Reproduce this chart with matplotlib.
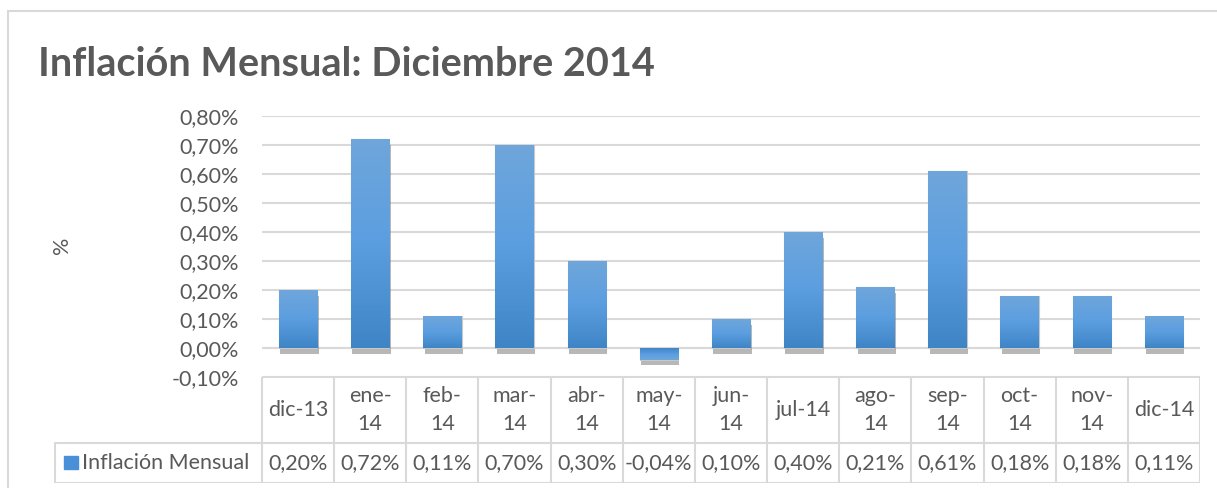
import matplotlib
matplotlib.use("Agg")
import matplotlib.pyplot as plt
import matplotlib.patheffects as pe
import numpy as np

meses = ["dic-13", "ene-\n14", "feb-\n14", "mar-\n14", "abr-\n14", "may-\n14", "jun-\n14",
         "jul-14", "ago-\n14", "sep-\n14", "oct-\n14", "nov-\n14", "dic-14"]
inflacion = [0.20, 0.72, 0.11, 0.70, 0.30, -0.04, 0.10, 0.40, 0.21, 0.61, 0.18, 0.18, 0.11]
serie = "Inflación Mensual"
yticks = [-0.1, 0.0, 0.1, 0.2, 0.3, 0.4, 0.5, 0.6, 0.7, 0.8]

gris = "#595959"
linea = "#d9d9d9"
fuente = "Lato"
fs = 15.5
W, H = 1217, 488

fig = plt.figure(figsize=(W / 100, H / 100), dpi=100)

# marco del grafico
fig.patches.append(plt.Rectangle((8 / W, -0.1), 1.2, (H - 11) / H + 0.1, transform=fig.transFigure,
                                 fill=False, edgecolor=linea, linewidth=1.5))

fig.text(38 / W, 1 - 65 / H, "Inflación Mensual: Diciembre 2014", fontsize=28.5, fontweight="bold",
         color=gris, family=fuente, va="center", ha="left")

ax = fig.add_axes([262 / W, 1 - 377 / H, (1200 - 262) / W, (377 - 116) / H])
x = np.arange(len(meses))
bars = ax.bar(x, inflacion, width=0.53, color="#5b9bd5", edgecolor="#c8c8c8", linewidth=0.8, zorder=3)
cmap = matplotlib.colors.LinearSegmentedColormap.from_list("g", ["#3f85c6", "#5b9ee0", "#6fa6db"])
for b in bars:
    b.set_path_effects([pe.SimplePatchShadow(offset=(1, -4), shadow_rgbFace="#707070", alpha=0.5),
                        pe.Normal()])
    # degradado vertical
    x0, y0 = b.get_x(), b.get_y()
    w, h = b.get_width(), b.get_height()
    grad = np.linspace(0, 1, 100).reshape(-1, 1)
    if h < 0:
        grad = grad[::-1]
    ext = (x0, x0 + w, min(y0, y0 + h), max(y0, y0 + h))
    im = ax.imshow(grad, cmap=cmap, extent=ext, origin="lower", aspect="auto", zorder=4)
    im.set_clip_path(b)

ax.set_xlim(-0.5, len(meses) - 0.5)
ax.set_ylim(-0.1, 0.8)
ax.set_yticks(yticks)
ax.set_yticklabels([("%.2f%%" % v).replace(".", ",") for v in yticks], fontsize=fs, color=gris, family=fuente)
ax.set_xticks([])
ax.tick_params(axis="y", length=0, pad=16.5)
ax.grid(axis="y", color=linea, linewidth=1.5, zorder=0)
for s in ax.spines.values():
    s.set_visible(False)
ax.axhline(0, color=linea, linewidth=1.5, zorder=2)
fig.text(62 / W, 1 - 245 / H, "%", rotation=90, ha="center", va="center", fontsize=fs, color=gris, family=fuente)

# tabla de datos
ancho_px = (1200 - 262) / len(meses)
izq = -0.5 - (262 - 54) / ancho_px
tx = fig.add_axes([54 / W, 1 - 483 / H, (1200 - 54) / W, (483 - 377) / H])
tx.set_xlim(izq, len(meses) - 0.5)
tx.set_ylim(0, 106)
tx.axis("off")
fila = 40  # alto fila de datos
kw = dict(color=linea, linewidth=1.5)
tx.hlines(106, -0.5, len(meses) - 0.5, **kw)
tx.hlines(fila, izq, len(meses) - 0.5, **kw)
tx.hlines(0.5, izq, len(meses) - 0.5, **kw)
tx.vlines(izq + 0.01, 0.5, fila, **kw)
for i in range(len(meses) + 1):
    tx.vlines(i - 0.5, 0.5, 106, **kw)
for i, (m, v) in enumerate(zip(meses, inflacion)):
    tx.text(i, (106 + fila) / 2, m, ha="center", va="center", fontsize=fs, color=gris,
            family=fuente, linespacing=1.5)
    tx.text(i, fila / 2, ("%.2f%%" % v).replace(".", ","), ha="center", va="center",
            fontsize=fs, color=gris, family=fuente)
tx.add_patch(plt.Rectangle((izq + 10 / ancho_px, fila / 2 - 6), 14 / ancho_px, 13, color="#4a90d9"))
tx.text(izq + 28 / ancho_px, fila / 2, serie, ha="left", va="center", fontsize=fs, color=gris, family=fuente)

fig.savefig("out.png", dpi=100)
